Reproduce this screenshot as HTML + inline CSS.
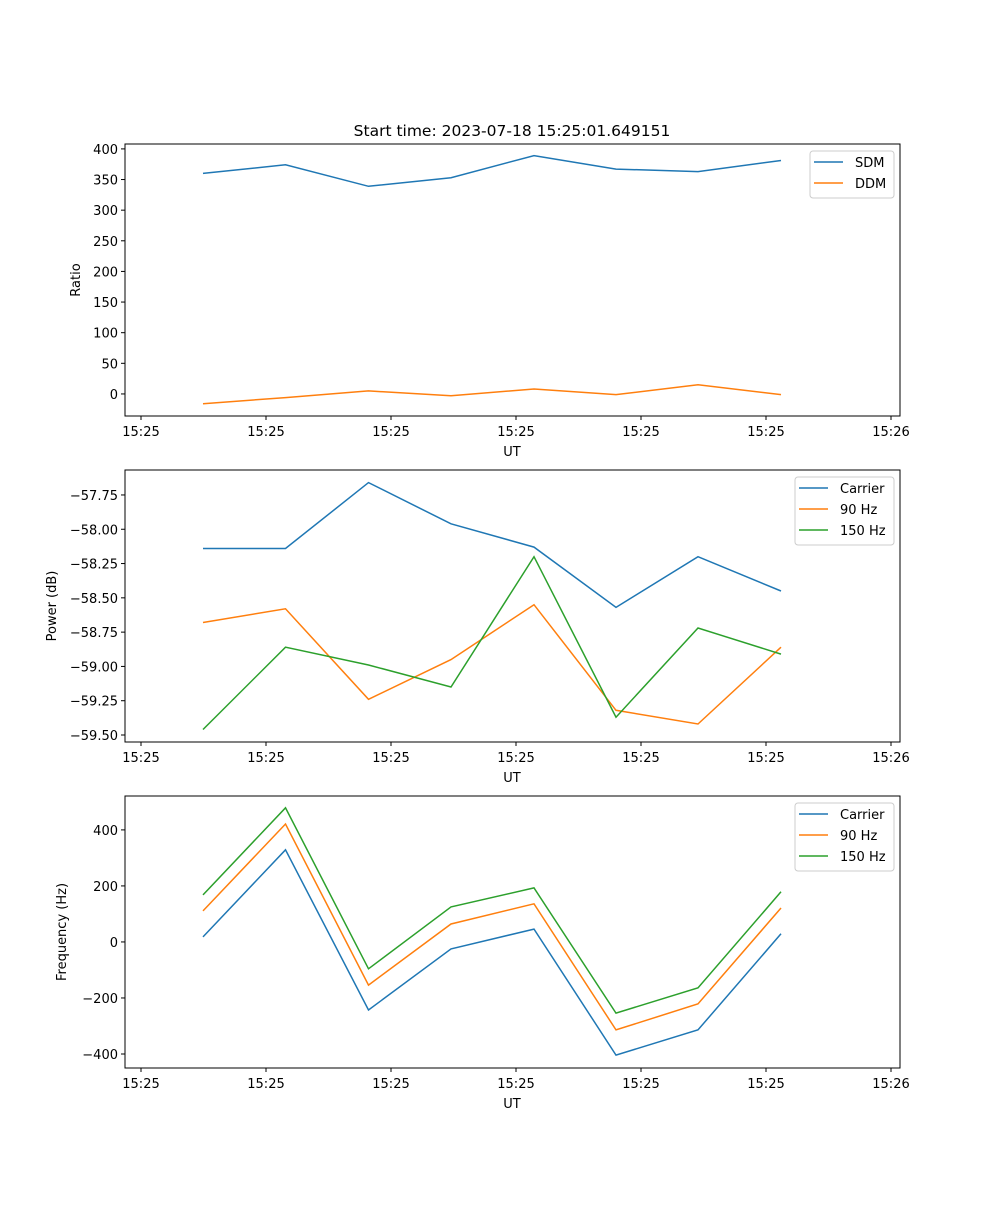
<!DOCTYPE html>
<html><head><meta charset="utf-8"><style>
body{margin:0;background:#fff}
svg text{font-family:"DejaVu Sans","Liberation Sans",sans-serif;font-size:13px;fill:#000}
</style></head><body>
<svg id="fig" width="1000" height="1200" xmlns="http://www.w3.org/2000/svg">
<rect width="1000" height="1200" fill="#fff"/>
<text x="512" y="136" text-anchor="middle" style="font-size:15.5px">Start time: 2023-07-18 15:25:01.649151</text>
</svg>
<script>
const xTickLabels = ["15:25","15:25","15:25","15:25","15:25","15:25","15:26"];
const times = [0.496,1.156,1.82,2.48,3.144,3.8,4.456,5.12];
const sdm = [360,374,339,353,389,367,363,381];
const ddm = [-16,-6,5,-3,8,-1,15,-1];
const powCarrier = [-58.14,-58.14,-57.66,-57.96,-58.13,-58.57,-58.2,-58.45];
const pow90 = [-58.68,-58.58,-59.24,-58.95,-58.55,-59.32,-59.42,-58.86];
const pow150 = [-59.46,-58.86,-58.99,-59.15,-58.2,-59.37,-58.72,-58.91];
const frqCarrier = [18,329,-243,-25,46,-404,-314,29];
const frq90 = [111,421,-154,64,136,-314,-221,121];
const frq150 = [168,479,-96,125,193,-254,-164,179];
const ticks1 = [0,50,100,150,200,250,300,350,400];
const ticks2 = [-59.5,-59.25,-59.0,-58.75,-58.5,-58.25,-58.0,-57.75];
const ticks3 = [-400,-200,0,200,400];

const NS="http://www.w3.org/2000/svg";
const svg=document.getElementById('fig');
function mk(tag,at,txt){const e=document.createElementNS(NS,tag);for(const k in at)e.setAttribute(k,at[k]);if(txt!==undefined)e.textContent=txt;svg.appendChild(e);return e;}
const L=125,R=900;
function xs(t){return 141+t*125;}
function panel(id,top,bot,ymin,ymax,yticks,fmt,ylabel,series,legend){
  const ys=v=>bot-(v-ymin)/(ymax-ymin)*(bot-top);
  xTickLabels.forEach((lab,i)=>{
    const x=xs(i);
    const tk=mk('line',{x1:x,x2:x,y1:bot,y2:bot+4,stroke:'#000'});
    
    
    const t=mk('text',{x:x,y:bot+20,'text-anchor':'middle'},lab);
    
    
  });
  yticks.forEach(v=>{
    const y=ys(v);
    const tk=mk('line',{x1:L-4,x2:L,y1:y,y2:y,stroke:'#000'});
    
    
    const t=mk('text',{x:L-7,y:y+5,'text-anchor':'end'},fmt(v));
    
    
  });
  const xl=mk('text',{x:512,y:bot+40,'text-anchor':'middle'},'UT');
  
  
  const cy=(top+bot)/2;
  const yl=mk('text',{x:0,y:0,'text-anchor':'middle',transform:`translate(${ylabel[1]},${cy}) rotate(-90)`},ylabel[0]);
  
  
  series.forEach(s=>{
    const pts=s.vals.map((v,i)=>xs(times[i]).toFixed(1)+','+ys(v).toFixed(1)).join(' ');
    const p=mk('polyline',{points:pts,fill:'none',stroke:s.color,'stroke-width':1.5});
    
    
  });
  const fr=mk('rect',{x:L,y:top,width:R-L,height:bot-top,fill:'none',stroke:'#000','stroke-width':1});
  
  
  const lb=mk('rect',{x:legend[0],y:top+7,width:R-6-legend[0],height:series.length*21+5,rx:3,fill:'#fff','fill-opacity':0.8,stroke:'#ccc'});
  
  
  series.forEach((s,i)=>{
    const y=top+18+i*21;
    const ln=mk('line',{x1:legend[0]+4,x2:legend[0]+33,y1:y,y2:y,stroke:s.color,'stroke-width':1.5});
    
    
    const t=mk('text',{x:legend[0]+45,y:y+5},s.name);
    
    
  });
}
const B='#1f77b4',O='#ff7f0e',G='#2ca02c';
panel('ratio-panel',144,416,-36,408,ticks1,v=>String(v),['Ratio',80],
  [{key:'sdm',name:'SDM',color:B,vals:sdm},{key:'ddm',name:'DDM',color:O,vals:ddm}],[810]);
panel('power-panel',470,742,-59.551,-57.568,ticks2,v=>'\u2212'+Math.abs(v).toFixed(2),['Power (dB)',56],
  [{key:'carrier',name:'Carrier',color:B,vals:powCarrier},{key:'90hz',name:'90 Hz',color:O,vals:pow90},{key:'150hz',name:'150 Hz',color:G,vals:pow150}],[795]);
panel('frequency-panel',796,1068,-450,521,ticks3,v=>v<0?'\u2212'+Math.abs(v):String(v),['Frequency (Hz)',66],
  [{key:'carrier',name:'Carrier',color:B,vals:frqCarrier},{key:'90hz',name:'90 Hz',color:O,vals:frq90},{key:'150hz',name:'150 Hz',color:G,vals:frq150}],[795]);
</script>
</body></html>
